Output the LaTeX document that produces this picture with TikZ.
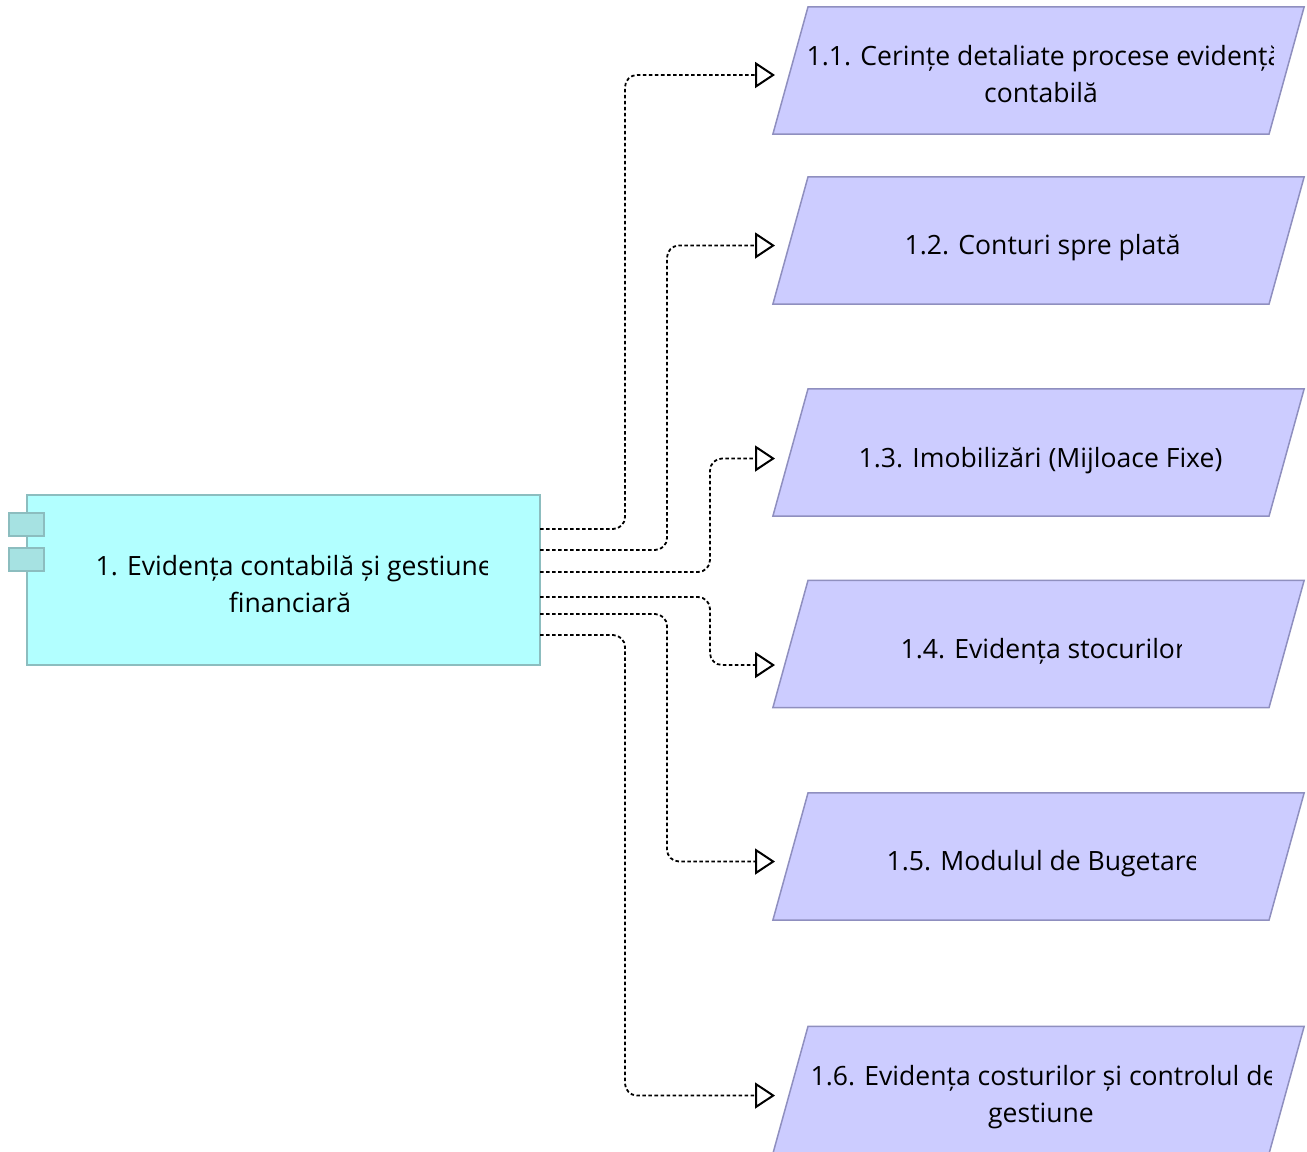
\documentclass[tikz,border=0pt]{standalone}
\usepackage{fontspec}
\setmainfont{Open Sans}
\usepackage{tikz}
\usetikzlibrary{arrows.meta,shapes.geometric}

\definecolor{appfill}{HTML}{B2FFFF}
\definecolor{appline}{HTML}{8CBDBF}
\definecolor{tabfill}{HTML}{A6E2E2}
\definecolor{taskfill}{HTML}{CCCCFF}
\definecolor{taskline}{HTML}{8F8FBF}

\tikzset{
    app/.style={draw=appline,fill=appfill,line width=0.02cm,inner sep=0pt,outer sep=0pt,
        minimum width=5.13cm,minimum height=1.70cm},
    apptab/.style={draw=appline,fill=tabfill,line width=0.02cm,inner sep=0pt,outer sep=0pt,
        minimum width=0.35cm,minimum height=0.23cm},
    task/.style={trapezium,trapezium stretches=true,trapezium left angle=85.74,trapezium right angle=94.26,
        draw=taskline,fill=taskfill,line width=0.015cm,inner sep=0pt,outer sep=0pt,
        minimum width=5.31cm,minimum height=1.27cm},
    caption/.style={inner sep=0pt,font=\fontsize{7.55}{10.5}\selectfont},
    link/.style={draw=black,line width=0.018cm,dash pattern=on 0.035cm off 0.025cm,rounded corners=0.12cm,
        -{Triangle[length=0.2cm,width=0.26cm,fill=white,line width=0.02cm]}},
}

% first line of a caption: starts at its left edge, cut off on the right
\newcommand{\cutcaption}[4]{%
    \begin{scope}
        \clip (0,0) rectangle (#3,1151);
        \node[caption,anchor=base west] (#1) at (#2) {#4};
    \end{scope}}

\begin{document}
\begin{tikzpicture}[x=0.01cm,y=-0.01cm]
    \useasboundingbox (0,0) rectangle (1307,1151);

    % Application box
    \node[app] (app) at (283.5,580) {};
    \node[apptab] (tabA) at (26.5,524.5) {};
    \node[apptab] (tabB) at (26.5,559.5) {};
    \cutcaption{appText}{95,575}{487}{1. Evidența contabilă și gestiune}
    \node[caption,anchor=base] (appMore) at (290,612) {financiară};

    % Functions
    \node[task] (task1) at (1038.5,70.5) {\phantom{x}};
    \node[task] (task2) at (1038.5,240.5) {\phantom{x}};
    \node[task] (task3) at (1038.5,452.5) {\phantom{x}};
    \node[task] (task4) at (1038.5,644) {\phantom{x}};
    \node[task] (task5) at (1038.5,856.5) {\phantom{x}};
    \node[task] (task6) at (1038.5,1090) {\phantom{x}};

    \cutcaption{text1}{806,65}{1273}{1.1. Cerințe detaliate procese evidență}
    \node[caption,anchor=base] (more1) at (1041,102) {contabilă};
    \cutcaption{text2}{904,254}{1307}{1.2. Conturi spre plată}
    \cutcaption{text3}{858,467}{1307}{1.3. Imobilizări (Mijloace Fixe)}
    \cutcaption{text4}{900,658}{1181}{1.4. Evidența stocurilor}
    \cutcaption{text5}{886,870}{1195}{1.5. Modulul de Bugetare}
    \cutcaption{text6}{810,1085}{1271}{1.6. Evidența costurilor și controlul de}
    \node[caption,anchor=base] (more6) at (1041,1122) {gestiune};

    % Ports on the application box
    \coordinate (out1) at (app.east |- 0,529);
    \coordinate (out2) at (app.east |- 0,550);
    \coordinate (out3) at (app.east |- 0,572);
    \coordinate (out4) at (app.east |- 0,597);
    \coordinate (out5) at (app.east |- 0,614);
    \coordinate (out6) at (app.east |- 0,635);

    % Arrow ends in front of the functions
    \coordinate (in1) at (775,75);
    \coordinate (in2) at (775,245.5);
    \coordinate (in3) at (775,458.5);
    \coordinate (in4) at (775,665);
    \coordinate (in5) at (775,861.5);
    \coordinate (in6) at (775,1095.5);

    % Connectors
    \draw[link] (out1) -| (625,75) -- (in1);
    \draw[link] (out2) -| (667,245.5) -- (in2);
    \draw[link] (out3) -| (710,458.5) -- (in3);
    \draw[link] (out4) -| (710,665) -- (in4);
    \draw[link] (out5) -| (667,861.5) -- (in5);
    \draw[link] (out6) -| (625,1095.5) -- (in6);
\end{tikzpicture}
\end{document}
